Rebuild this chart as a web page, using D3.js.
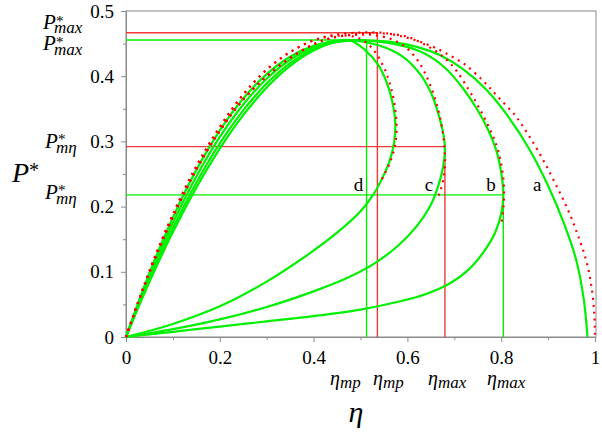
<!DOCTYPE html>
<html><head><meta charset="utf-8">
<script src="https://cdn.jsdelivr.net/npm/d3@7"></script>
<style>
body{margin:0;background:#fff}svg{display:block}
svg text{font-family:"Liberation Serif","Times New Roman",Times,"DejaVu Serif",serif !important}
</style>
</head><body><svg id="c" width="602" height="432"></svg>
<script>
// ---- data (η, P*) ----
const xMajor = [0, 0.2, 0.4, 0.6, 0.8, 1];
const xMinor = [0.1, 0.3, 0.5, 0.7, 0.9];
const yMajor = [0, 0.1, 0.2, 0.3, 0.4, 0.5];
const yMinor = [0.05, 0.15, 0.25, 0.35, 0.45];
const xTickLabels = ["0", "0.2", "0.4", "0.6", "0.8", "1"];
const yTickLabels = ["0", "0.1", "0.2", "0.3", "0.4", "0.5"];

// green (solid) curves
const greenA = [[0,0],[0.03,0.0517],[0.06,0.1004],[0.1,0.1609],[0.15,0.2291],[0.2,0.289],[0.25,0.3402],[0.3,0.3826],[0.35,0.4158],[0.4,0.4394],[0.44,0.4509],[0.478,0.455],
  [0.56,0.453],[0.62,0.445],[0.67,0.432],[0.72,0.41],[0.77,0.378],[0.815,0.338],[0.86,0.288],[0.9,0.232],[0.935,0.172],[0.96,0.118],[0.976,0.058],[0.984,0]];
const greenB = [[0,0],[0.1,0.008],[0.2,0.016],[0.3,0.024],[0.4,0.032],[0.5,0.042],[0.58,0.054],[0.64,0.066],[0.69,0.082],[0.73,0.103],[0.76,0.128],[0.787,0.16],[0.801,0.192],[0.8045,0.218],[0.8,0.252],[0.79,0.285],[0.772,0.318],[0.748,0.35],[0.72,0.38],[0.68,0.413],[0.63,0.437],[0.56,0.451],
  [0.478,0.455],[0.44,0.4517],[0.4,0.4417],[0.35,0.4201],[0.3,0.3887],[0.25,0.3476],[0.2,0.2969],[0.15,0.2367],[0.1,0.1671],[0.06,0.1047],[0.03,0.0541],[0,0]];
const greenC = [[0,0],[0.1,0.012],[0.2,0.027],[0.3,0.046],[0.4,0.07],[0.47,0.09],[0.53,0.113],[0.58,0.14],[0.62,0.17],[0.648,0.2],[0.665,0.23],[0.676,0.26],[0.68,0.29],[0.677,0.31],[0.667,0.34],[0.65,0.375],[0.625,0.405],[0.59,0.43],[0.54,0.447],
  [0.478,0.455],[0.44,0.4526],[0.4,0.4443],[0.35,0.4252],[0.3,0.3961],[0.25,0.3567],[0.2,0.3068],[0.15,0.2463],[0.1,0.1751],[0.06,0.1103],[0.03,0.0572],[0,0]];
const greenD = [[0,0],[0.1,0.02],[0.2,0.047],[0.3,0.085],[0.391,0.128],[0.45,0.16],[0.5,0.193],[0.527,0.218],[0.548,0.246],[0.563,0.272],[0.572,0.3],[0.574,0.33],[0.568,0.36],[0.556,0.39],[0.537,0.418],[0.51,0.44],
  [0.478,0.455],[0.44,0.4533],[0.4,0.4466],[0.35,0.4299],[0.3,0.4032],[0.25,0.3657],[0.2,0.3169],[0.15,0.2563],[0.1,0.1835],[0.06,0.1162],[0.03,0.0605],[0,0]];

// red (dotted) curves
const redA = [[0,0],[0.03,0.062],[0.06,0.12],[0.1,0.188],[0.15,0.262],[0.2,0.322],[0.25,0.372],[0.3,0.41],[0.35,0.437],[0.4,0.455],[0.44,0.463],[0.49,0.4667],[0.53,0.4672],[0.556,0.4658],[0.584,0.4617],[0.6115,0.4566],[0.6375,0.45],[0.659,0.4437],[0.680,0.436],[0.705,0.426],[0.727,0.4156],[0.757,0.396],[0.776,0.382],[0.796,0.366],[0.829,0.3405],[0.858,0.31],[0.886,0.276],[0.915,0.236],[0.943,0.194],[0.964,0.155],[0.982,0.1155],[0.993,0.0747],[0.9986,0.0337],[1.0,0]];
const redB = [[0,0],[0.03,0.061],[0.06,0.117],[0.1,0.184],[0.15,0.257],[0.2,0.316],[0.25,0.364],[0.3,0.4],[0.35,0.428],[0.4,0.449],[0.44,0.459],[0.49,0.4645],[0.53,0.466],[0.58,0.4635],[0.6055,0.459],[0.641,0.447],[0.6766,0.43],[0.705,0.408],[0.730,0.38],[0.748,0.358],[0.765,0.335],[0.78,0.312],[0.792,0.29],[0.8,0.265],[0.805,0.24],[0.806,0.218],[0.8045,0.197],[0.801,0.177]];
const redC = [[0,0],[0.03,0.061],[0.06,0.117],[0.1,0.184],[0.15,0.257],[0.2,0.316],[0.25,0.364],[0.3,0.4],[0.35,0.428],[0.4,0.449],[0.44,0.459],[0.49,0.4635],[0.53,0.463],[0.565,0.457],[0.59,0.448],[0.616,0.43],[0.636,0.407],[0.652,0.38],[0.665,0.35],[0.674,0.32],[0.679,0.29],[0.68,0.265],[0.676,0.24],[0.6695,0.223],[0.6625,0.210]];
const redD = [[0,0],[0.03,0.062],[0.06,0.12],[0.1,0.188],[0.15,0.262],[0.2,0.322],[0.25,0.372],[0.3,0.41],[0.35,0.437],[0.4,0.455],[0.45,0.462],[0.49,0.46],[0.515,0.45],[0.536,0.432],[0.552,0.41],[0.564,0.385],[0.573,0.355],[0.577,0.325],[0.574,0.295],[0.564,0.27],[0.55,0.248],[0.54,0.235]];

// reference lines: [η, P*] corners
const greenRef = [[0.513, 0.4555], [0.8045, 0.218]];
const redRef = [[0.536, 0.4667], [0.680, 0.292]];

const curveLabels = [["a", 0.877], ["b", 0.778], ["c", 0.646], ["d", 0.496]];
const curveLabelP = 0.22;

// ---- drawing ----
const svg = d3.select("#c");
const x = d3.scaleLinear([0, 1], [126, 595]);
const y = d3.scaleLinear([0, 0.5], [337, 11]);
const serif = '"Liberation Serif","Times New Roman",Times,"DejaVu Serif",serif';
const GREEN = "#00f000";

// frame
svg.append("rect").attr("x", x(0)).attr("y", y(0.5)).attr("width", x(1) - x(0) + 1).attr("height", y(0) - y(0.5))
  .attr("fill", "none").attr("stroke", "#8a8a8a").attr("stroke-width", 1);

// axes
const ax = svg.append("g").attr("transform", `translate(0,${y(0)})`)
  .call(d3.axisBottom(x).tickValues(xMajor).tickSize(5).tickPadding(8).tickFormat((d, i) => xTickLabels[i]));
const axm = svg.append("g").attr("transform", `translate(0,${y(0)})`)
  .call(d3.axisBottom(x).tickValues(xMinor).tickSize(3).tickFormat(""));
const ay = svg.append("g").attr("transform", `translate(${x(0)},0)`)
  .call(d3.axisLeft(y).tickValues(yMajor).tickSize(5).tickPadding(7).tickFormat((d, i) => yTickLabels[i]));
const aym = svg.append("g").attr("transform", `translate(${x(0)},0)`)
  .call(d3.axisLeft(y).tickValues(yMinor).tickSize(3).tickFormat(""));
[ax, axm, ay, aym].forEach(g => {
  g.attr("font-family", null);
  g.select(".domain").attr("stroke", "#8a8a8a");
  g.selectAll(".tick line").attr("stroke", "#8a8a8a");
  g.selectAll("text").style("font-family", serif).attr("font-size", 19).attr("fill", "#000");
});
ax.selectAll("text").attr("dy", "0.72em");

// reference lines
function refLines(pts, col) {
  pts.forEach(([e, p]) => {
    svg.append("line").attr("x1", x(0)).attr("x2", x(e)).attr("y1", y(p)).attr("y2", y(p))
      .attr("stroke", col).attr("stroke-width", 1.4);
    svg.append("line").attr("x1", x(e)).attr("x2", x(e)).attr("y1", y(0)).attr("y2", y(p))
      .attr("stroke", col).attr("stroke-width", 1.4);
  });
}
refLines(greenRef, GREEN);
refLines(redRef, "#f03a3a");

const line = d3.line().x(d => x(d[0])).y(d => y(d[1])).curve(d3.curveCatmullRom.alpha(0.5));
[greenA, greenB, greenC, greenD].forEach(s => {
  svg.append("path").attr("d", line(s)).attr("fill", "none").attr("stroke", GREEN).attr("stroke-width", 2.2);
});
[redA, redB, redC, redD].forEach(s => {
  svg.append("path").attr("d", line(s)).attr("fill", "none").attr("stroke", "#ff0000")
    .attr("stroke-width", 2.2).attr("stroke-dasharray", "2,5");
});

// curve labels
curveLabels.forEach(([t, e]) => {
  svg.append("text").attr("x", x(e)).attr("y", y(curveLabelP) - 3).attr("text-anchor", "middle")
    .style("font-family", serif).attr("font-size", 19).text(t);
});

// math labels: base with optional superscript and subscript (stacked)
function sym(xp, yp, base, sup, sub, size, subSize, subX, subDy, supX, supDy) {
  const t = svg.append("text").attr("x", xp).attr("y", yp).style("font-family", serif)
    .attr("font-style", "italic").attr("font-size", size);
  t.append("tspan").text(base);
  if (sup) t.append("tspan").attr("x", xp + supX).attr("y", yp - supDy).attr("font-size", size * 0.72)
    .attr("font-style", "normal").text(sup);
  if (sub) t.append("tspan").attr("x", xp + subX).attr("y", yp + subDy).attr("font-size", subSize).text(sub);
}
sym(43, 29, "P", "*", "max", 21, 17, 11, 4, 13, 3);
sym(43, 50, "P", "*", "max", 21, 17, 11, 5, 13, 3);
sym(45, 148, "P", "*", "mη", 21, 17, 11, 5, 13, 4);
sym(45, 199, "P", "*", "mη", 21, 17, 11, 5, 13, 4);
sym(12, 182, "P", "*", null, 28, 0, 0, 0, 17, 5);

sym(330, 385, "η", null, "mp", 20, 17, 10, 3, 0, 0);
sym(373, 385, "η", null, "mp", 20, 17, 10, 3, 0, 0);
sym(428, 385, "η", null, "max", 20, 17, 10, 3, 0, 0);
sym(487, 385, "η", null, "max", 20, 17, 10, 3, 0, 0);

svg.append("text").attr("x", 356).attr("y", 422).attr("text-anchor", "middle").style("font-family", serif)
  .attr("font-style", "italic").attr("font-size", 30).text("η");
</script></body></html>
